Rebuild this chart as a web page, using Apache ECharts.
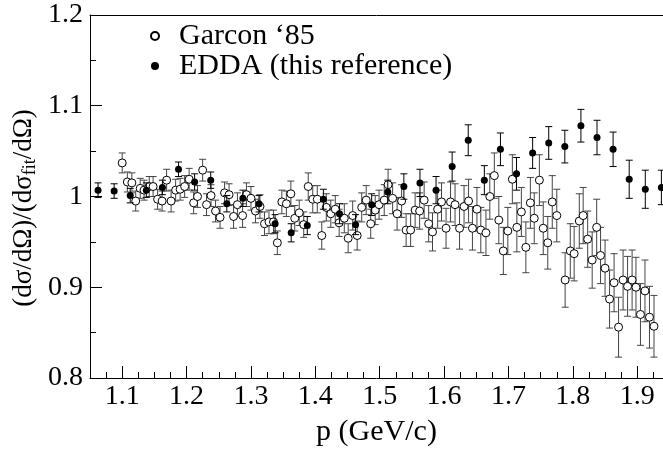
<!DOCTYPE html>
<html>
<head>
<meta charset="utf-8">
<script src="https://cdn.jsdelivr.net/npm/echarts@6/dist/echarts.min.js"></script>
<style>html,body{margin:0;padding:0;background:#fff}#c{width:663px;height:452px}</style>
</head>
<body>
<div id="c"></div>
<script>
// ---- data ----
const garconP = [
1.100,1.108,1.115,1.121,1.128,1.134,1.142,1.148,1.155,1.162,1.169,1.176,1.183,1.190,1.197,1.204,1.211,1.217,1.225,1.231,1.238,1.245,1.252,1.259,1.266,1.273,1.279,1.287,1.293,1.300,1.307,1.314,1.321,1.328,1.335,1.341,1.348,
1.355,1.362,1.368,1.375,1.382,1.389,1.396,1.403,1.410,1.417,1.424,1.431,1.437,1.445,1.451,1.458,1.465,1.472,1.479,1.486,1.493,1.499,1.507,1.513,1.520,1.527,1.534,1.541,1.548,1.555,1.562,1.569,1.576,1.582,1.590,1.596,1.603,1.610,1.617,1.624,1.631,1.638,
1.644,1.651,1.657,1.665,1.671,1.678,1.685,1.692,1.699,1.706,1.713,1.720,1.727,1.734,1.740,1.748,1.754,1.761,1.768,1.775,1.788,1.796,1.802,1.810,1.816,1.823,1.830,1.837,1.843,1.850,1.857,1.864,1.871,1.878,1.885,1.892,1.898,1.905,1.912,1.919,1.926];
const garconR = [
1.037,1.016,1.015,0.995,1.009,1.007,1.011,1.011,0.997,0.995,1.018,0.995,1.007,1.008,1.011,1.019,0.993,1.000,1.029,0.991,1.001,0.984,0.977,1.004,1.002,0.978,0.991,0.979,1.002,0.998,0.984,0.989,0.970,0.972,0.972,0.949,0.994,
0.992,1.003,0.976,0.982,0.969,1.011,0.997,0.997,0.957,0.988,0.981,0.986,0.971,0.976,0.954,0.979,0.957,0.988,0.996,0.970,0.985,0.991,0.996,1.013,0.998,0.981,0.995,0.963,0.963,0.985,0.984,0.996,0.970,0.961,0.986,0.994,0.965,0.994,0.991,0.965,0.989,0.995,
0.965,0.986,0.963,0.960,1.000,1.023,0.974,0.940,0.962,1.019,0.966,0.983,0.944,0.993,0.976,1.018,0.965,0.949,0.994,0.979,0.908,0.940,0.937,0.973,0.979,0.953,0.930,0.966,0.935,0.921,0.887,0.905,0.856,0.908,0.901,0.908,0.900,0.870,0.896,0.867,0.857];
const garconErr = [
0.011,0.011,0.011,0.011,0.011,0.011,0.011,0.011,0.011,0.011,0.012,0.012,0.012,0.012,0.012,0.012,0.012,0.012,0.012,0.012,0.012,0.012,0.012,0.012,0.012,0.013,0.013,0.013,0.013,0.013,0.013,0.013,0.013,0.013,0.013,0.013,0.013,
0.014,0.014,0.014,0.014,0.014,0.015,0.015,0.015,0.015,0.015,0.015,0.015,0.015,0.016,0.016,0.016,0.016,0.016,0.016,0.016,0.016,0.016,0.017,0.017,0.017,0.018,0.018,0.018,0.018,0.019,0.020,0.020,0.020,0.021,0.021,0.021,0.022,0.022,0.023,0.023,0.023,0.024,
0.024,0.024,0.025,0.025,0.025,0.025,0.026,0.026,0.026,0.027,0.027,0.027,0.028,0.028,0.028,0.028,0.029,0.029,0.029,0.029,0.030,0.030,0.030,0.030,0.031,0.031,0.031,0.031,0.031,0.031,0.032,0.032,0.033,0.033,0.033,0.033,0.033,0.034,0.034,0.034,0.034];
const eddaP = [1.0625,1.0875,1.1125,1.1375,1.1625,1.1875,1.2125,1.2375,1.2625,1.2875,1.3125,1.3375,1.3625,1.3875,1.4125,1.4375,1.4625,1.4875,1.5125,1.5375,1.5625,1.5875,1.6125,1.6375,1.6625,1.6875,1.7125,1.7375,1.7625,1.7875,1.8125,1.8375,1.8625,1.8875,1.9125,1.9375];
const eddaR = [1.007,1.006,1.001,1.007,1.010,1.030,1.016,1.018,0.992,0.998,0.992,0.970,0.960,0.968,0.997,0.981,0.969,0.991,1.005,1.011,1.015,1.007,1.033,1.062,1.018,1.052,1.025,1.048,1.059,1.055,1.078,1.065,1.052,1.019,1.008,1.010];
const eddaErr = [0.008,0.008,0.008,0.008,0.008,0.008,0.009,0.009,0.009,0.009,0.009,0.010,0.010,0.010,0.011,0.011,0.011,0.012,0.013,0.014,0.015,0.015,0.016,0.017,0.016,0.018,0.018,0.017,0.018,0.018,0.018,0.019,0.019,0.021,0.021,0.019];
const xMajorTicks = [1.1,1.2,1.3,1.4,1.5,1.6,1.7,1.8,1.9];
const xMinorTicks = [1.075,1.125,1.15,1.175,1.225,1.25,1.275,1.325,1.35,1.375,1.425,1.45,1.475,1.525,1.55,1.575,1.625,1.65,1.675,1.725,1.75,1.775,1.825,1.85,1.875,1.925];
const seriesNames = ['Garcon \u201885', 'EDDA (this reference)'];

const FONT = 'Liberation Serif';
const chart = echarts.init(document.getElementById('c'), null, {renderer: 'canvas'});

function errBar(color) {
  return function (params, api) {
    const x = api.value(0), y = api.value(1), e = api.value(2);
    const t = api.coord([x, y + e]);
    const b = api.coord([x, y - e]);
    const cw = 3.5;
    const st = {stroke: color, lineWidth: 1};
    return {
      type: 'group',
      children: [
        {type: 'line', shape: {x1: t[0], y1: t[1], x2: b[0], y2: b[1]}, style: st},
        {type: 'line', shape: {x1: t[0] - cw, y1: t[1], x2: t[0] + cw, y2: t[1]}, style: st},
        {type: 'line', shape: {x1: b[0] - cw, y1: b[1], x2: b[0] + cw, y2: b[1]}, style: st}
      ]
    };
  };
}

const garconData = garconP.map((p, i) => [p, garconR[i], garconErr[i]]);
const eddaData = eddaP.map((p, i) => [p, eddaR[i], eddaErr[i]]);

const xBase = {type: 'value', min: 1.05, max: 1.94, gridIndex: 0, splitLine: {show: false}};

chart.setOption({
  animation: false,
  backgroundColor: '#fff',
  grid: {left: 90, right: 0, top: 15, bottom: 66, containLabel: false},
  legend: {
    orient: 'vertical', left: 145, top: 16, itemWidth: 8, itemHeight: 8, itemGap: 0,
    icon: 'circle', data: seriesNames,
    formatter: n => '  ' + n,
    textStyle: {fontFamily: FONT, fontSize: 30, lineHeight: 27, color: '#000'}
  },
  xAxis: [
    Object.assign({}, xBase, {
      position: 'bottom',
      axisLine: {show: true, lineStyle: {color: '#000', width: 1}},
      axisTick: {show: true, inside: true, length: 12, customValues: xMajorTicks, lineStyle: {color: '#000'}},
      axisLabel: {show: true, customValues: xMajorTicks, fontFamily: FONT, fontSize: 28, color: '#000', margin: 5},
      name: 'p (GeV/c)', nameLocation: 'middle', nameGap: 39,
      nameTextStyle: {fontFamily: FONT, fontSize: 30, color: '#000'}
    }),
    Object.assign({}, xBase, {
      position: 'bottom',
      axisLine: {show: false},
      axisTick: {show: true, inside: true, length: 6, customValues: xMinorTicks, lineStyle: {color: '#000'}},
      axisLabel: {show: false}
    }),
    Object.assign({}, xBase, {
      position: 'top',
      axisLine: {show: true, lineStyle: {color: '#000', width: 1}},
      axisTick: {show: false},
      axisLabel: {show: false}
    })
  ],
  yAxis: {
    type: 'value', min: 0.8, max: 1.2, interval: 0.1,
    axisLine: {show: true, lineStyle: {color: '#000', width: 1}},
    axisTick: {show: true, inside: true, length: 12, lineStyle: {color: '#000'}},
    minorTick: {show: true, splitNumber: 2, length: 6, lineStyle: {color: '#000'}},
    splitLine: {show: false},
    axisLabel: {fontFamily: FONT, fontSize: 28, color: '#000', margin: 7}
  },
  graphic: [{
    type: 'text', x: 24, y: 208, rotation: Math.PI / 2,
    style: {
      text: '{a|(d\u03c3/d\u03a9)/(d\u03c3}{s|fit}{a|/d\u03a9)}',
      align: 'center', verticalAlign: 'middle',
      rich: {
        a: {fontFamily: FONT, fontSize: 27, fill: '#000', lineHeight: 30},
        s: {fontFamily: FONT, fontSize: 18, fill: '#000', lineHeight: 30, padding: [14, 0, 0, 0], verticalAlign: 'bottom'}
      }
    }
  }],
  series: [
    {type: 'custom', name: 'garconErr', xAxisIndex: 0, renderItem: errBar('#444'), data: garconData, z: 1, clip: true, silent: true},
    {type: 'scatter', name: seriesNames[0], xAxisIndex: 0, symbol: 'circle', symbolSize: 8,
     itemStyle: {color: '#fff', borderColor: '#000', borderWidth: 1, opacity: 1},
     data: garconData.map(d => [d[0], d[1]]), z: 2},
    {type: 'custom', name: 'eddaErr', xAxisIndex: 0, renderItem: errBar('#000'), data: eddaData, z: 3, clip: true, silent: true},
    {type: 'scatter', name: seriesNames[1], xAxisIndex: 0, symbol: 'circle', symbolSize: 7,
     itemStyle: {color: '#000', borderColor: '#000', borderWidth: 0, opacity: 1},
     data: eddaData.map(d => [d[0], d[1]]), z: 4}
  ]
});
</script>
</body>
</html>
